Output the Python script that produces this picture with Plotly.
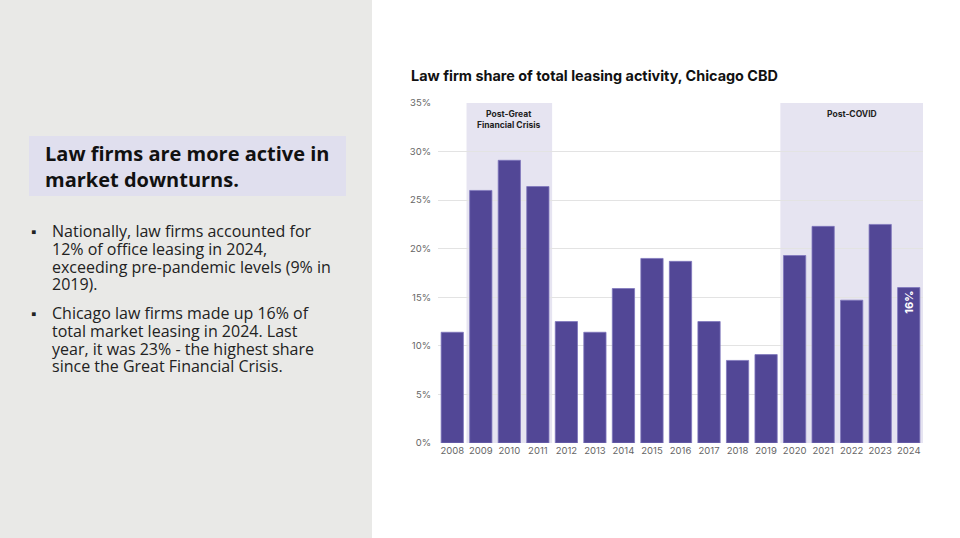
import plotly.graph_objects as go

# ─────────────────────────────────────────────
# DATA
# ─────────────────────────────────────────────
years = ["2008", "2009", "2010", "2011", "2012", "2013", "2014", "2015", "2016",
         "2017", "2018", "2019", "2020", "2021", "2022", "2023", "2024"]
share = [11.4, 26.0, 29.1, 26.4, 12.5, 11.4, 15.9, 19.0, 18.7,
         12.5, 8.5, 9.1, 19.3, 22.3, 14.7, 22.5, 16.0]
y_ticks = [0, 5, 10, 15, 20, 25, 30, 35]

periods = ["Post-Great<br>Financial Crisis", "Post-COVID"]
period_start = [0.5, 11.5]
period_end = [3.5, 16.5]
period_mid = [2, 14]

headline = "Law firms are more active in<br>market downturns."
bullet_1 = ["Nationally, law firms accounted for", "12% of office leasing in 2024,",
            "exceeding pre-pandemic levels (9% in", "2019)."]
bullet_2 = ["Chicago law firms made up 16% of", "total market leasing in 2024. Last",
            "year, it was 23% - the highest share", "since the Great Financial Crisis."]

BAR = "#524796"
SHADE = "#e6e4f1"
W, H = 960, 538

# only label the latest year
bar_text = [""] * (len(share) - 1) + [f"<b>{share[-1]:.0f}%</b>"]

fig = go.Figure()
fig.add_trace(go.Bar(
    x=list(range(len(years))),
    y=share,
    marker=dict(color=BAR, line=dict(color="#7f76bd", width=0.8)),
    text=bar_text,
    textposition="inside",
    insidetextanchor="end",
    textangle=-90,
    textfont=dict(color="white", size=11, family="Inter"),
    hoverinfo="skip",
))

shapes = [
    # grey left panel
    dict(type="rect", xref="paper", yref="paper", x0=-1, x1=372 / W, y0=-1, y1=2,
         fillcolor="#e9e9e7", line_width=0, layer="below"),
    # headline box
    dict(type="rect", xref="paper", yref="paper", x0=29 / W, x1=346 / W,
         y0=1 - 196 / H, y1=1 - 136 / H, fillcolor="#e0dfee", line_width=0, layer="below"),
]
for s, e in zip(period_start, period_end):
    shapes.append(dict(type="rect", xref="x", yref="y", x0=s, x1=e, y0=0, y1=35,
                       fillcolor=SHADE, line_width=0, layer="below"))

annotations = [
    dict(text="<b>Law firm share of total leasing activity, Chicago CBD</b>",
         xref="paper", yref="paper", x=409 / W, y=1 - 75 / H, xanchor="left", yanchor="middle",
         showarrow=False, font=dict(size=14.4, color="#111", family="Inter")),
    dict(text=f"<b>{headline}</b>", xref="paper", yref="paper", x=43 / W, y=1 - 166 / H,
         xanchor="left", yanchor="middle", align="left", showarrow=False,
         font=dict(size=20, color="#111", family="Open Sans")),
]
for lines, top in [(bullet_1, 231), (bullet_2, 313)]:
    annotations.append(dict(text="▪", xref="paper", yref="paper", x=29 / W, y=1 - top / H,
                            xanchor="left", yanchor="middle", showarrow=False,
                            font=dict(size=15, color="#222")))
    for i, line in enumerate(lines):
        annotations.append(dict(text=line, xref="paper", yref="paper", x=51 / W,
                                y=1 - (top + 17.8 * i) / H, xanchor="left", yanchor="middle",
                                showarrow=False, borderpad=0,
                                font=dict(size=16, color="#222", family="Open Sans")))
for lbl, m in zip(periods, period_mid):
    annotations.append(dict(text=f"<b>{lbl}</b>", x=m, y=34.6, xref="x", yref="y",
                            xanchor="center", yanchor="top", showarrow=False,
                            font=dict(size=8.5, color="#222", family="Inter")))

fig.update_layout(
    width=W, height=H,
    autosize=False,
    margin=dict(l=0, r=0, t=0, b=0, pad=0, autoexpand=False),
    paper_bgcolor="white",
    plot_bgcolor="white",
    showlegend=False,
    bargap=0.22,
    shapes=shapes,
    annotations=annotations,
    xaxis=dict(
        domain=[438 / W, 923 / W],
        range=[-0.5, len(years) - 0.5],
        tickmode="array", tickvals=list(range(len(years))), ticktext=years,
        tickfont=dict(size=9.5, color="#666", family="Inter"),
        showgrid=False, zeroline=False, showline=False, ticks="", automargin=False,
    ),
    yaxis=dict(
        domain=[1 - 443 / H, 1 - 103 / H],
        range=[0, 35],
        tickvals=y_ticks, ticktext=[f"{v}%" for v in y_ticks],
        tickfont=dict(size=9.5, color="#666", family="Inter"),
        gridcolor="#e3e3e3", gridwidth=1, zeroline=False, showline=False, ticks="",
        ticklabelstandoff=6, automargin=False,
    ),
)

# drop the default page margin so the figure sits at the window's corner
fig.write_html("out.html", config={"displayModeBar": False},
               post_script="document.body.style.margin='0';")
